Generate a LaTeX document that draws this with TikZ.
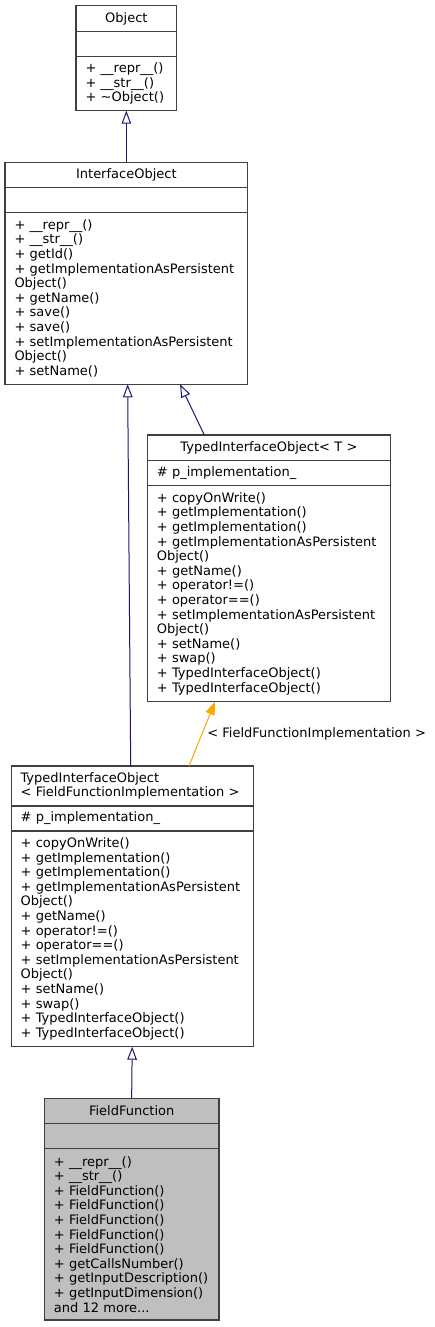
\documentclass[tikz,border=0pt]{standalone}
\usepackage{fontspec}
\setmainfont{DejaVu Sans}
\usepackage{tikz}
\usepackage{xcolor}
\usetikzlibrary{arrows.meta, positioning}
\definecolor{edgeblue}{RGB}{25, 25, 112}
\definecolor{edgeorange}{RGB}{255, 165, 0}
\definecolor{boxgray}{RGB}{64, 64, 64}
\definecolor{fillgray}{RGB}{191, 191, 191}

\begin{document}
\begin{tikzpicture}[x=1pt, y=-1pt,
    part/.style={rectangle, draw=boxgray, line width=1.1pt, inner xsep=9.5pt, inner ysep=0pt, outer sep=0pt, anchor=north, font=\fontsize{13}{14.6}\selectfont},
    head/.style={part, align=center, minimum height=25pt},
    attr/.style={part, align=left, minimum height=25pt},
    ops/.style={part, align=left},
    inherit/.style={-{Triangle[open, length=13pt, width=9.5pt]}, line width=1pt, edgeblue},
    instance/.style={-{Triangle[length=13pt, width=9.5pt]}, line width=1pt, edgeorange}
]
\useasboundingbox (0,0) rectangle (435,1327);

% Object box
\node[head, text width=81.7pt, minimum height=26pt] (objhead) at (126.35,5.7) {Object};
\node[attr, text width=81.7pt, below=0pt of objhead] (objattr) {};
\node[ops, text width=81.7pt, minimum height=54pt, below=0pt of objattr] (objops) {
    + \_\_repr\_\_()\\
    + \_\_str\_\_()\\
    + \textasciitilde Object()
};

% InterfaceObject box
\node[head, text width=223.7pt] (iohead) at (126.35,162.3) {InterfaceObject};
\node[attr, text width=223.7pt, below=0pt of iohead] (ioattr) {};
\node[ops, text width=223.7pt, minimum height=172pt, below=0pt of ioattr] (ioops) {
    + \_\_repr\_\_()\\
    + \_\_str\_\_()\\
    + getId()\\
    + getImplementationAsPersistent\\
    Object()\\
    + getName()\\
    + save()\\
    + save()\\
    + setImplementationAsPersistent\\
    Object()\\
    + setName()
};

% TypedInterfaceObject< T > box
\node[head, text width=224.4pt, minimum height=25.7pt] (tiothead) at (269,435) {TypedInterfaceObject< T >};
\node[attr, text width=224.4pt, below=0pt of tiothead] (tiotattr) {\# p\_implementation\_};
\node[ops, text width=224.4pt, minimum height=216pt, below=0pt of tiotattr] (tiotops) {
    + copyOnWrite()\\
    + getImplementation()\\
    + getImplementation()\\
    + getImplementationAsPersistent\\
    Object()\\
    + getName()\\
    + operator!=()\\
    + operator==()\\
    + setImplementationAsPersistent\\
    Object()\\
    + setName()\\
    + swap()\\
    + TypedInterfaceObject()\\
    + TypedInterfaceObject()
};

% TypedInterfaceObject< FieldFunctionImplementation > box
\node[head, align=left, text width=223.3pt, minimum height=40pt] (ffihead) at (132.2,766) {
    TypedInterfaceObject\\
    < FieldFunctionImplementation >
};
\node[attr, text width=223.3pt, below=0pt of ffihead] (ffiattr) {\# p\_implementation\_};
\node[ops, text width=223.3pt, minimum height=215.7pt, below=0pt of ffiattr] (ffiops) {
    + copyOnWrite()\\
    + getImplementation()\\
    + getImplementation()\\
    + getImplementationAsPersistent\\
    Object()\\
    + getName()\\
    + operator!=()\\
    + operator==()\\
    + setImplementationAsPersistent\\
    Object()\\
    + setName()\\
    + swap()\\
    + TypedInterfaceObject()\\
    + TypedInterfaceObject()
};

% FieldFunction box
\node[head, fill=fillgray, text width=155.7pt] (ffhead) at (131.65,1098.3) {FieldFunction};
\node[attr, fill=fillgray, text width=155.7pt, below=0pt of ffhead] (ffattr) {};
\node[ops, fill=fillgray, text width=155.7pt, minimum height=171.7pt, below=0pt of ffattr] (ffops) {
    + \_\_repr\_\_()\\
    + \_\_str\_\_()\\
    + FieldFunction()\\
    + FieldFunction()\\
    + FieldFunction()\\
    + FieldFunction()\\
    + FieldFunction()\\
    + getCallsNumber()\\
    + getInputDescription()\\
    + getInputDimension()\\
    and 12 more...
};

% Inheritance arrows
\draw[inherit] (iohead.north) -- (objops.south);
\draw[inherit] ([xshift=-1.5pt]ffihead.north) -- ([xshift=1.3pt]ioops.south);
\draw[inherit] ([xshift=-64.7pt]tiothead.north) -- ([xshift=53.7pt]ioops.south);
\draw[inherit] (ffhead.north) -- (ffiops.south);

% Template instance arrow
\draw[instance] ([xshift=56.8pt]ffihead.north) -- ([xshift=-54pt]tiotops.south)
    node[midway, right=1.5pt, text=black, font=\fontsize{13}{14.6}\selectfont] (instlabel) {< FieldFunctionImplementation >};

\end{tikzpicture}
\end{document}
